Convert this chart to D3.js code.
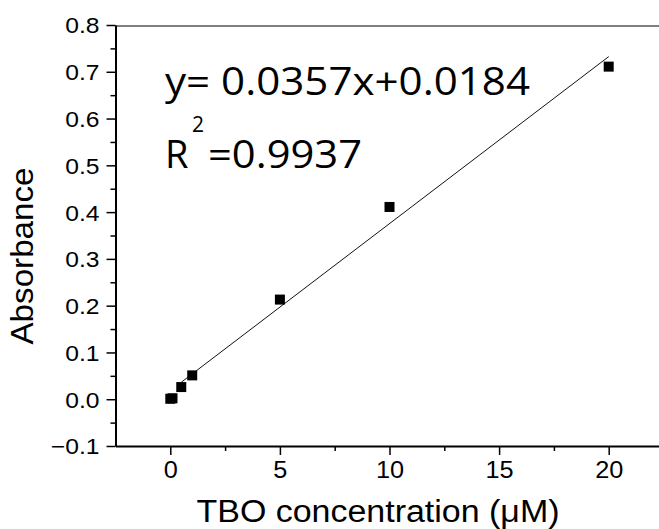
<!DOCTYPE html>
<html>
<head>
<meta charset="utf-8">
<script src="https://d3js.org/d3.v7.min.js"></script>
<style>
  body { margin: 0; background: #fff; }
  svg { display: block; }
  .axis path, .axis line { stroke: #000; }
</style>
</head>
<body>
<svg width="659" height="529"></svg>
<script>
// measured points
var concentration = [0, 0.1, 0.5, 1, 5, 10, 20];
var absorbance = [0.001, 0.002, 0.026, 0.051, 0.213, 0.411, 0.711];

// linear fit shown on the chart
var slope = 0.0357, intercept = 0.0184;
var fitRange = [0.5, 20];

var xTicks = [0, 5, 10, 15, 20];
var xMinorTicks = [2.5, 7.5, 12.5, 17.5];
var yTicks = [-0.1, 0, 0.1, 0.2, 0.3, 0.4, 0.5, 0.6, 0.7, 0.8];
var yMinorTicks = [-0.05, 0.05, 0.15, 0.25, 0.35, 0.45, 0.55, 0.65, 0.75];

var svg = d3.select("svg");
var axisFont = "'Liberation Sans', Arial, sans-serif";

var x = d3.scaleLinear().domain([-2.5, 22.5]).range([115.5, 663.5]);
var y = d3.scaleLinear().domain([-0.1, 0.8]).range([446, 25]);

// stretch text horizontally a bit, like the original export
function widen(sel, k) {
  sel.each(function() {
    var w = this.getComputedTextLength();
    d3.select(this).attr("textLength", w * k).attr("lengthAdjust", "spacingAndGlyphs");
  });
}

// top frame line
svg.append("line")
  .attr("x1", x.range()[0]).attr("x2", x.range()[1])
  .attr("y1", y(0.8) + 1).attr("y2", y(0.8) + 1)
  .attr("stroke", "#555").attr("stroke-width", 1.5);

// minor ticks
svg.append("g")
  .attr("class", "axis")
  .attr("transform", "translate(0," + y.range()[0] + ")")
  .call(d3.axisBottom(x).tickValues(xMinorTicks).tickSize(5).tickFormat(""))
  .call(function(g) { g.select(".domain").remove(); g.selectAll("line").attr("stroke-width", 1.5); });

svg.append("g")
  .attr("class", "axis")
  .attr("transform", "translate(" + x.range()[0] + ",0)")
  .call(d3.axisLeft(y).tickValues(yMinorTicks).tickSize(5).tickFormat(""))
  .call(function(g) { g.select(".domain").remove(); g.selectAll("line").attr("stroke-width", 1.5); });

// major axes
var xAxis = svg.append("g")
  .attr("class", "axis")
  .attr("transform", "translate(0," + y.range()[0] + ")")
  .call(d3.axisBottom(x).tickValues(xTicks).tickSize(9).tickSizeOuter(0).tickPadding(7).tickFormat(d3.format("d")));
xAxis.select(".domain").attr("stroke-width", 2);
xAxis.selectAll("line").attr("stroke-width", 1.5);
xAxis.selectAll("text")
  .style("font-family", axisFont).style("font-size", "23px").attr("fill", "#000")
  .call(widen, 1.1);

var yAxis = svg.append("g")
  .attr("class", "axis")
  .attr("transform", "translate(" + x.range()[0] + ",0)")
  .call(d3.axisLeft(y).tickValues(yTicks).tickSize(9).tickSizeOuter(0).tickPadding(7).tickFormat(d3.format(".1f")));
yAxis.select(".domain").attr("stroke-width", 2);
yAxis.selectAll("line").attr("stroke-width", 1.5);
yAxis.selectAll("text")
  .style("font-family", axisFont).style("font-size", "22px").attr("fill", "#000")
  .attr("dy", "0.36em")
  .call(widen, 1.12);

// fit line
svg.append("line")
  .attr("x1", x(fitRange[0])).attr("y1", y(slope * fitRange[0] + intercept))
  .attr("x2", x(fitRange[1])).attr("y2", y(slope * fitRange[1] + intercept))
  .attr("stroke", "#111").attr("stroke-width", 1);

// data squares
var size = 10;
svg.selectAll("rect.pt")
  .data(concentration)
  .enter().append("rect")
  .attr("class", "pt")
  .attr("x", function(d) { return x(d) - size / 2; })
  .attr("y", function(d, i) { return y(absorbance[i]) - size / 2; })
  .attr("width", size)
  .attr("height", size)
  .attr("fill", "#000");

// axis titles
svg.append("text")
  .attr("x", 378).attr("y", 522)
  .attr("text-anchor", "middle")
  .style("font-family", axisFont)
  .style("font-size", "31px")
  .text("TBO concentration (\u03bcM)")
  .attr("textLength", 363).attr("lengthAdjust", "spacingAndGlyphs");

svg.append("text")
  .attr("transform", "translate(33,256) rotate(-90)")
  .attr("text-anchor", "middle")
  .style("font-family", axisFont)
  .style("font-size", "31px")
  .text("Absorbance")
  .attr("textLength", 177).attr("lengthAdjust", "spacingAndGlyphs");

// equation
var eqFont = "'Open Sans', 'Noto Sans', sans-serif";
svg.append("text")
  .attr("x", 165).attr("y", 95)
  .style("font-family", eqFont).style("font-size", "38px")
  .text("y= 0.0357x+0.0184")
  .attr("textLength", 365).attr("lengthAdjust", "spacingAndGlyphs");

svg.append("text")
  .attr("x", 165).attr("y", 168)
  .style("font-family", eqFont).style("font-size", "38px")
  .text("R");

svg.append("text")
  .attr("x", 192).attr("y", 132)
  .style("font-family", eqFont).style("font-size", "21px")
  .text("2");

svg.append("text")
  .attr("x", 208).attr("y", 168)
  .style("font-family", eqFont).style("font-size", "38px")
  .text("=0.9937")
  .attr("textLength", 154).attr("lengthAdjust", "spacingAndGlyphs");
</script>
</body>
</html>
